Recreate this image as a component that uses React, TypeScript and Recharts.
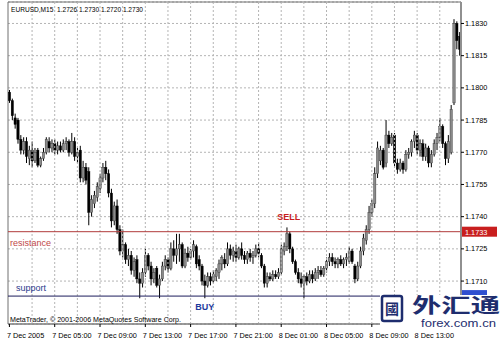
import React from "react";
import {
  ComposedChart,
  Bar,
  XAxis,
  YAxis,
  CartesianGrid,
  ReferenceLine,
  ReferenceArea,
  ReferenceDot,
} from "recharts";

const FONT = "'Liberation Sans', Arial, sans-serif";

const opens = [
  1.1798, 1.1794, 1.1786, 1.1785, 1.1776, 1.1771, 1.1775, 1.1767, 1.1771, 1.1766,
  1.1771, 1.1764, 1.1767, 1.177, 1.1775, 1.1772, 1.1774, 1.1771, 1.1773, 1.1771,
  1.1774, 1.1775, 1.177, 1.1775, 1.1768, 1.1771, 1.1758, 1.1763, 1.1761, 1.1742,
  1.1746, 1.1749, 1.1753, 1.1758, 1.1763, 1.176, 1.1751, 1.1738, 1.1745, 1.1734,
  1.1724, 1.1727, 1.172, 1.1722, 1.1715, 1.172, 1.1711, 1.1709, 1.1714, 1.1722,
  1.1717, 1.1711, 1.1716, 1.1708, 1.1711, 1.1717, 1.172, 1.1716, 1.1725, 1.1722,
  1.1725, 1.1727, 1.1717, 1.1723, 1.1721, 1.1724, 1.1726, 1.172, 1.1717, 1.171,
  1.1708, 1.1712, 1.171, 1.1712, 1.1714, 1.1718, 1.172, 1.1718, 1.1725, 1.1722,
  1.1724, 1.1721, 1.1725, 1.1722, 1.172, 1.1723, 1.1721, 1.1722, 1.1725, 1.1722,
  1.1717, 1.1709, 1.1712, 1.1711, 1.1713, 1.1712, 1.1714, 1.1724, 1.1726, 1.1732,
  1.1725, 1.1719, 1.1714, 1.1711, 1.1709, 1.1712, 1.171, 1.1713, 1.1711, 1.1714,
  1.1715, 1.1713, 1.1716, 1.1719, 1.1721, 1.1719, 1.1718, 1.172, 1.1718, 1.172,
  1.1719, 1.1724, 1.1717, 1.1711, 1.1717, 1.1724, 1.1729, 1.1734, 1.1742, 1.1746,
  1.176, 1.1766, 1.1771, 1.1765, 1.1778, 1.1774, 1.1778, 1.1765, 1.1762, 1.1765,
  1.1762, 1.1769, 1.177, 1.1775, 1.1778, 1.1771, 1.1774, 1.1768, 1.1772, 1.1765,
  1.1769, 1.1774, 1.1777, 1.1782, 1.1774, 1.1767, 1.177, 1.1793, 1.183, 1.1824,
];

const highs = [
  1.1799, 1.1795, 1.1788, 1.1786, 1.1778, 1.1777, 1.1777, 1.1773, 1.1775, 1.1772,
  1.1772, 1.1768, 1.1772, 1.1777, 1.1777, 1.1776, 1.1776, 1.1775, 1.1775, 1.1776,
  1.1777, 1.1776, 1.1779, 1.1777, 1.1772, 1.1773, 1.1766, 1.1765, 1.1763, 1.175,
  1.1752, 1.1756, 1.176, 1.1765, 1.1766, 1.1762, 1.1753, 1.1747, 1.1748, 1.1736,
  1.1734, 1.1728, 1.1725, 1.1724, 1.1721, 1.1722, 1.1714, 1.1716, 1.1725, 1.1723,
  1.1719, 1.1716, 1.1717, 1.1713, 1.1719, 1.1722, 1.1721, 1.1728, 1.1729, 1.1732,
  1.1732, 1.1728, 1.1725, 1.1726, 1.1725, 1.1729, 1.1727, 1.1722, 1.1718, 1.1713,
  1.1714, 1.1714, 1.1715, 1.1716, 1.172, 1.1722, 1.1723, 1.1728, 1.1727, 1.1726,
  1.1727, 1.1726, 1.1728, 1.1724, 1.1724, 1.1725, 1.1724, 1.1727, 1.1728, 1.1723,
  1.1718, 1.1714, 1.1714, 1.1715, 1.1715, 1.1716, 1.1727, 1.1728, 1.1735, 1.1733,
  1.1726, 1.172, 1.1716, 1.1714, 1.1713, 1.1714, 1.1715, 1.1715, 1.1716, 1.1717,
  1.1717, 1.1717, 1.1721, 1.1723, 1.1723, 1.1721, 1.1721, 1.1722, 1.1721, 1.1723,
  1.1726, 1.1725, 1.1718, 1.1719, 1.1726, 1.1732, 1.1736, 1.1745, 1.1748, 1.1763,
  1.1775, 1.1773, 1.1772, 1.1785, 1.178, 1.1779, 1.1779, 1.1767, 1.1767, 1.1766,
  1.1771, 1.1772, 1.1776, 1.178, 1.1779, 1.1776, 1.1776, 1.1774, 1.1773, 1.1771,
  1.1776, 1.1779, 1.1786, 1.1783, 1.1775, 1.1778, 1.1792, 1.1832, 1.1831, 1.1826,
];

const lows = [
  1.1793, 1.1785, 1.1781, 1.1774, 1.1769, 1.1769, 1.1765, 1.1764, 1.1763, 1.1765,
  1.1763, 1.1763, 1.1766, 1.1769, 1.177, 1.177, 1.1769, 1.1769, 1.177, 1.177,
  1.1771, 1.1768, 1.1769, 1.1766, 1.1765, 1.1756, 1.1756, 1.1755, 1.1736, 1.174,
  1.1744, 1.1747, 1.1751, 1.1756, 1.1757, 1.1749, 1.1735, 1.1736, 1.1732, 1.1722,
  1.1721, 1.1718, 1.1717, 1.1713, 1.1712, 1.1709, 1.1702, 1.1707, 1.1712, 1.1715,
  1.1708, 1.1709, 1.1707, 1.1702, 1.171, 1.1715, 1.1714, 1.1715, 1.1719, 1.1718,
  1.1719, 1.1716, 1.1716, 1.1719, 1.172, 1.1721, 1.1716, 1.1715, 1.1708, 1.1702,
  1.1707, 1.1708, 1.1709, 1.171, 1.1711, 1.1715, 1.1716, 1.1717, 1.172, 1.1719,
  1.1719, 1.172, 1.172, 1.1718, 1.1718, 1.1719, 1.1718, 1.1721, 1.1721, 1.1716,
  1.1707, 1.1707, 1.171, 1.171, 1.1711, 1.1711, 1.1713, 1.1722, 1.1724, 1.1723,
  1.1718, 1.1713, 1.1709, 1.1707, 1.1702, 1.1708, 1.1709, 1.1709, 1.171, 1.1711,
  1.1712, 1.1712, 1.1714, 1.1717, 1.1717, 1.1716, 1.1716, 1.1717, 1.1716, 1.1717,
  1.1718, 1.1718, 1.1709, 1.171, 1.1716, 1.1722, 1.1727, 1.1732, 1.174, 1.1744,
  1.1758, 1.1764, 1.1762, 1.1763, 1.1772, 1.1773, 1.1763, 1.176, 1.1761, 1.176,
  1.1761, 1.1767, 1.1768, 1.1772, 1.1769, 1.1768, 1.1766, 1.1766, 1.1763, 1.1763,
  1.1768, 1.1771, 1.1775, 1.1772, 1.1764, 1.1765, 1.1769, 1.1792, 1.1818, 1.1815,
];

const closes = [
  1.1794, 1.1787, 1.1783, 1.1776, 1.1771, 1.1775, 1.1768, 1.1771, 1.1766, 1.177,
  1.1764, 1.1767, 1.177, 1.1776, 1.1772, 1.1774, 1.1771, 1.1773, 1.1771, 1.1774,
  1.1775, 1.177, 1.1775, 1.1768, 1.177, 1.1758, 1.1763, 1.1757, 1.1742, 1.1748,
  1.175, 1.1754, 1.1758, 1.1763, 1.176, 1.1751, 1.1738, 1.1745, 1.1734, 1.1724,
  1.1727, 1.172, 1.1722, 1.1715, 1.1719, 1.1711, 1.1709, 1.1714, 1.1722, 1.1717,
  1.1711, 1.1714, 1.1708, 1.1711, 1.1717, 1.172, 1.1716, 1.1725, 1.1722, 1.1725,
  1.1727, 1.1717, 1.1723, 1.1721, 1.1724, 1.1727, 1.1718, 1.1717, 1.171, 1.1708,
  1.1712, 1.171, 1.1713, 1.1715, 1.1718, 1.1721, 1.1718, 1.1725, 1.1722, 1.1724,
  1.1721, 1.1725, 1.1722, 1.172, 1.1723, 1.1721, 1.1722, 1.1725, 1.1723, 1.1717,
  1.1709, 1.1712, 1.1711, 1.1713, 1.1712, 1.1714, 1.1725, 1.1726, 1.1732, 1.1725,
  1.1719, 1.1714, 1.1711, 1.1709, 1.1712, 1.171, 1.1713, 1.1711, 1.1714, 1.1715,
  1.1713, 1.1716, 1.1719, 1.1721, 1.1719, 1.1718, 1.172, 1.1718, 1.172, 1.1721,
  1.1724, 1.1719, 1.1711, 1.1717, 1.1724, 1.173, 1.1734, 1.1742, 1.1746, 1.176,
  1.1772, 1.1771, 1.1763, 1.1778, 1.1774, 1.1777, 1.1765, 1.1762, 1.1765, 1.1762,
  1.1769, 1.177, 1.1775, 1.1778, 1.1771, 1.1774, 1.1768, 1.1772, 1.1765, 1.1769,
  1.1774, 1.1777, 1.1782, 1.1774, 1.1767, 1.1775, 1.179, 1.183, 1.1822, 1.1818,
];

// 15-minute bars starting 7 Dec 2005 01:00
const times: string[] = opens.map((_, i) => {
  const m = 60 + i * 15;
  const day = m >= 1440 ? 8 : 7;
  const mm = m % 1440;
  const hh = String(Math.floor(mm / 60)).padStart(2, "0");
  const mi = String(mm % 60).padStart(2, "0");
  return `${day} Dec ${hh}:${mi}`;
});

const xTickCats = [
  "7 Dec 01:00", "7 Dec 05:00", "7 Dec 09:00", "7 Dec 13:00", "7 Dec 17:00",
  "7 Dec 21:00", "8 Dec 01:00", "8 Dec 05:00", "8 Dec 09:00", "8 Dec 13:00",
];
const xTickLabels = [
  "7 Dec 2005", "7 Dec 05:00", "7 Dec 09:00", "7 Dec 13:00", "7 Dec 17:00",
  "7 Dec 21:00", "8 Dec 01:00", "8 Dec 05:00", "8 Dec 09:00", "8 Dec 13:00",
];
const gridCats = times.filter((_, i) => i > 0 && i % 8 === 0);

const yTicks = [1.171, 1.1725, 1.174, 1.1755, 1.177, 1.1785, 1.18, 1.1815, 1.183];
const yDomain: [number, number] = [1.169, 1.184];
const resistance = 1.1733;
const support = 1.1703;
const sellIndex = 98;
const buyIndex = 69;

const data = times.map((t, i) => ({
  t,
  range: [lows[i], highs[i]],
  o: opens[i],
  h: highs[i],
  l: lows[i],
  c: closes[i],
}));

const Candle = (props: any) => {
  const { x, y, width, height, payload } = props;
  if (x == null || y == null || !payload) return null;
  const top = Math.min(y, y + height);
  const bottom = Math.max(y, y + height);
  const span = payload.h - payload.l || 1e-9;
  const px = (v: number) => top + ((payload.h - v) / span) * (bottom - top);
  const cx = x + width / 2;
  const bw = width * 0.78;
  const yo = px(payload.o);
  const yc = px(payload.c);
  const bull = payload.c >= payload.o;
  const bt = Math.min(yo, yc);
  const bh = Math.max(1, Math.abs(yc - yo));
  return (
    <g>
      <line x1={cx} x2={cx} y1={top} y2={bottom} stroke="#000" strokeWidth={1} />
      <rect
        x={cx - bw / 2}
        y={bt}
        width={bw}
        height={bh}
        fill={bull ? "#8a8a8a" : "#000"}
        stroke={bull ? "#333" : "#000"}
        strokeWidth={0.4}
      />
    </g>
  );
};

const XTick = (props: any) => {
  const { x, y, payload } = props;
  const idx = xTickCats.indexOf(payload.value);
  const label = idx >= 0 ? xTickLabels[idx] : payload.value;
  return (
    <text x={x - 2.5} y={y + 8.5} fontSize={7.3} fontFamily={FONT} fill="#000" textAnchor="start">
      {label}
    </text>
  );
};

const ResLabel = (props: any) => {
  const vb = props.viewBox || {};
  const right = vb.x + vb.width;
  return (
    <g>
      <text x={vb.x + 2} y={vb.y + 14} fontSize={9} fontFamily={FONT} fill="#c04848">
        resistance
      </text>
      <rect x={right + 1} y={vb.y - 5} width={35} height={10} fill="#c81e1e" />
      <text x={right + 4} y={vb.y + 3} fontSize={7.3} fontFamily={FONT} fill="#fff">
        {resistance.toFixed(4)}
      </text>
    </g>
  );
};

const SupLabel = (props: any) => {
  const vb = props.viewBox || {};
  const right = vb.x + vb.width;
  return (
    <g>
      <text x={vb.x + 8} y={vb.y - 5} fontSize={9} fontFamily={FONT} fill="#2b3a8c">
        support
      </text>
      <rect x={right + 1} y={vb.y - 6} width={25} height={6} fill="#2f4fd0" />
    </g>
  );
};

const SellLabel = (props: any) => {
  const vb = props.viewBox || {};
  return (
    <text x={vb.x + vb.width / 2 + 2} y={vb.y - 6} fontSize={9} fontWeight="bold" fontFamily={FONT} fill="#c81e1e" textAnchor="middle">
      SELL
    </text>
  );
};

const BuyLabel = (props: any) => {
  const vb = props.viewBox || {};
  return (
    <text x={vb.x + vb.width / 2} y={vb.y + 13} fontSize={9} fontWeight="bold" fontFamily={FONT} fill="#1e3a9c" textAnchor="middle">
      BUY
    </text>
  );
};

export default function App() {
  return (
    <div style={{ position: "absolute", left: 0, top: 0, width: 500, height: 339, background: "#fff", overflow: "hidden" }}>
      <ComposedChart
        width={500}
        height={339}
        data={data}
        margin={{ top: 2, right: 0, bottom: 0, left: 8 }}
        barCategoryGap={0}
        barGap={0}
      >
        <CartesianGrid vertical={false} stroke="#b4b4b4" strokeDasharray="2 2" />
        {gridCats.map((c) => (
          <ReferenceLine key={c} x={c} stroke="#b4b4b4" strokeDasharray="2 2" />
        ))}
        <XAxis
          dataKey="t"
          ticks={xTickCats}
          interval={0}
          tick={<XTick />}
          height={15}
          tickSize={3}
          axisLine={{ stroke: "#808080" }}
          tickLine={{ stroke: "#000" }}
        />
        <YAxis
          orientation="right"
          width={39}
          domain={yDomain}
          ticks={yTicks}
          allowDataOverflow
          tickSize={3}
          tickMargin={1}
          tickFormatter={(v: number) => v.toFixed(4)}
          tick={{ fontSize: 7.3, fill: "#000", fontFamily: FONT }}
          axisLine={{ stroke: "#909090", strokeWidth: 2 }}
          tickLine={{ stroke: "#000" }}
        />
        <ReferenceArea y1={yDomain[0]} y2={yDomain[1]} fill="none" stroke="#707070" strokeWidth={1} />
        <ReferenceLine y={resistance} stroke="#b03a3a" strokeWidth={1} label={<ResLabel />} />
        <ReferenceLine y={support} stroke="#1c1c5c" strokeWidth={1} label={<SupLabel />} />
        <Bar dataKey="range" isAnimationActive={false} shape={(p: any) => <Candle {...p} />} />
        <ReferenceDot x={times[sellIndex]} y={highs[sellIndex]} r={1} fill="none" stroke="none" label={<SellLabel />} />
        <ReferenceDot x={times[buyIndex]} y={lows[buyIndex]} r={1} fill="none" stroke="none" label={<BuyLabel />} />
      </ComposedChart>
      <svg
        width={500}
        height={339}
        style={{ position: "absolute", left: 0, top: 0, pointerEvents: "none" }}
      >
        <text x={11} y={12} fontSize={8} fontFamily={FONT} fill="#000" textLength={132} lengthAdjust="spacingAndGlyphs" style={{ whiteSpace: "pre" }}>
          {"EURUSD,M15  1.2726 1.2730 1.2720 1.2730"}
        </text>
        <text x={10} y={322} fontSize={8} fontFamily={FONT} fill="#000" textLength={171} lengthAdjust="spacingAndGlyphs">
          MetaTrader, © 2001-2006 MetaQuotes Software Corp.
        </text>
        <rect x={380} y={295} width={120} height={34} fill="#fff" />
        <rect x={382} y={296} width={20} height={25} fill="#fff" stroke="#1e2d6e" strokeWidth={2.5} rx={2} />
        <text x={392} y={314} fontSize={14} fontFamily="'Noto Sans CJK SC'" fill="#1e2d6e" textAnchor="middle" fontWeight="bold">
          國
        </text>
        <text x={412} y={313} fontSize={20} fontFamily="'Noto Sans CJK SC'" fill="#1e2d6e" fontWeight="bold" textLength={88} lengthAdjust="spacingAndGlyphs">
          外汇通
        </text>
        <text x={421} y={327} fontSize={10} fontFamily={FONT} fill="#1e2d6e" textLength={75} lengthAdjust="spacingAndGlyphs">
          forex.com.cn
        </text>
      </svg>
    </div>
  );
}
